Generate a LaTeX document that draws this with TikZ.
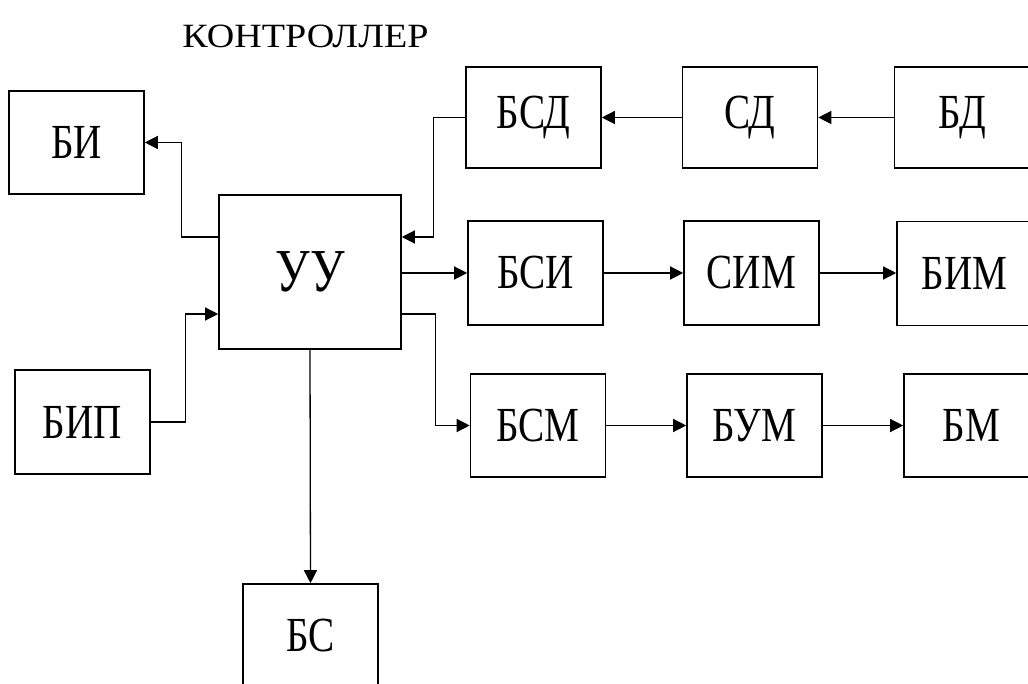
\documentclass[tikz,border=0pt]{standalone}
\usepackage{fontspec}
\setmainfont{Liberation Serif}
\usetikzlibrary{arrows.meta,calc}
\newcommand\sqz[1]{\scalebox{0.8}[1]{#1}}
\tikzset{
  blk/.style={draw, line width=1.6pt, rectangle, inner sep=0pt, minimum width=#1, minimum height=103pt, font=\fontsize{49}{49}\selectfont},
  blk/.default=135pt,
  arr/.style={line width=1.3pt, -{Triangle[length=13pt,width=13pt]}},
  ln/.style={line width=1.3pt}
}
\begin{document}
\begin{tikzpicture}[x=1pt,y=-1pt]
\useasboundingbox (0,0) rectangle (1028,684);
\node[font=\fontsize{34}{34}\selectfont] (title) at (305.5,36) {\scalebox{1.12}[1]{КОНТРОЛЛЕР}};
\node[blk] (bi) at (76.5,142.5) {\sqz{БИ}};
\node[blk, minimum height=104pt] (bip) at (82.5,422) {\sqz{БИП}};
\node[blk, minimum width=182pt, minimum height=154pt, font=\fontsize{61}{61}\selectfont] (uu) at (310,272) {\sqz{УУ}};
\node[blk, minimum height=104pt] (bs) at (310.5,636) {\sqz{БС}};
\node[blk, minimum height=101pt] (bsd) at (533.5,117.5) {\sqz{БСД}};
\node[blk, minimum height=101pt] (sd) at (750,117.5) {\sqz{СД}};
\node[blk, minimum height=101pt] (bd) at (962,117.5) {\sqz{БД}};
\node[blk, minimum height=104pt] (bsi) at (535.5,273) {\sqz{БСИ}};
\node[blk, minimum height=104pt] (sim) at (751.5,273) {\sqz{СИМ}};
\node[blk, minimum height=104pt] (bim) at (964.5,273.5) {\sqz{БИМ}};
\node[blk] (bsm) at (538,425.5) {\sqz{БСМ}};
\node[blk] (bum) at (754.5,425.5) {\sqz{БУМ}};
\node[blk] (bm) at (971.5,425.5) {\sqz{БМ}};
% left side
\draw[arr] ([yshift=35pt]uu.west) -- ++(-37,0) |- (bi.east);
\draw[arr] (bip.east) -- ++(35,0) |- ([yshift=-42pt]uu.west);
% right side
\draw[arr] (bsd.west) -- ++(-32,0) |- ([yshift=35pt]uu.east);
\draw[arr] (uu.east |- bsi.west) -- (bsi.west);
\draw[arr] ([yshift=-42pt]uu.east) -- ++(34,0) |- (bsm.west);
\draw[arr] (uu.south) -- (bs.north);
% chains
\draw[arr] (sd.west) -- (bsd.east);
\draw[arr] (bd.west) -- (sd.east);
\draw[arr] (bsi.east) -- (sim.west);
\draw[arr] (sim.east) -- (sim.east -| bim.west);
\draw[arr] (bsm.east) -- (bum.west);
\draw[arr] (bum.east) -- (bm.west);
\end{tikzpicture}
\end{document}
